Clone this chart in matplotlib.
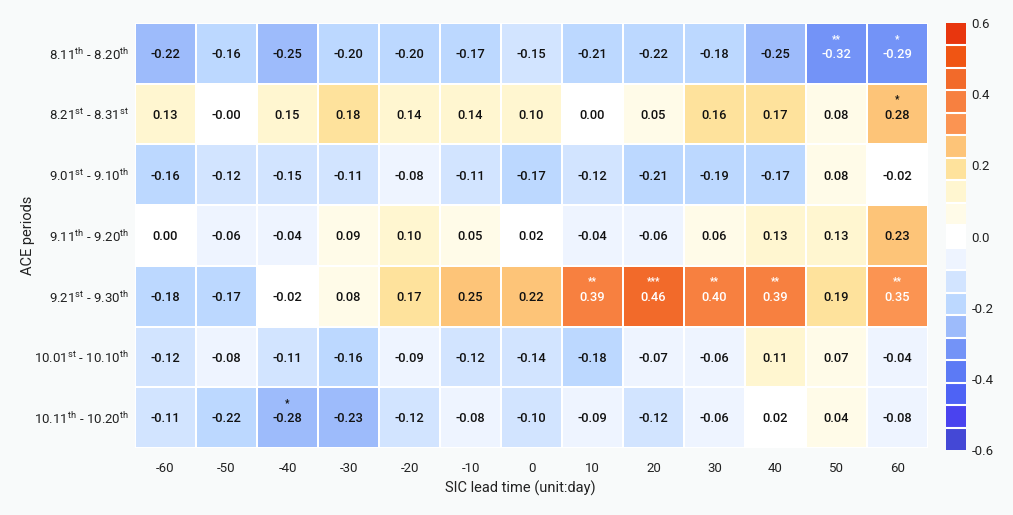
import numpy as np
import matplotlib
matplotlib.use("Agg")
import matplotlib.pyplot as plt
from matplotlib.colors import ListedColormap, BoundaryNorm

plt.rcParams['font.family'] = ['Roboto', 'DejaVu Sans']
plt.rcParams['mathtext.fontset'] = 'custom'
plt.rcParams['mathtext.rm'] = 'Roboto'
plt.rcParams['mathtext.it'] = 'Roboto'

lead_days = [-60, -50, -40, -30, -20, -10, 0, 10, 20, 30, 40, 50, 60]
periods = [
    r"8.11$^{\rm th}$ - 8.20$^{\rm th}$",
    r"8.21$^{\rm st}$ - 8.31$^{\rm st}$",
    r"9.01$^{\rm st}$ - 9.10$^{\rm th}$",
    r"9.11$^{\rm th}$ - 9.20$^{\rm th}$",
    r"9.21$^{\rm st}$ - 9.30$^{\rm th}$",
    r"10.01$^{\rm st}$ - 10.10$^{\rm th}$",
    r"10.11$^{\rm th}$ - 10.20$^{\rm th}$",
]

row_811 = [-0.224, -0.16, -0.25, -0.20, -0.20, -0.17, -0.15, -0.21, -0.218, -0.18, -0.25, -0.32, -0.29]
row_821 = [0.13, -0.001, 0.15, 0.18, 0.14, 0.14, 0.10, 0.00, 0.05, 0.16, 0.17, 0.08, 0.28]
row_901 = [-0.16, -0.12, -0.15, -0.11, -0.08, -0.11, -0.17, -0.12, -0.21, -0.19, -0.17, 0.08, -0.02]
row_911 = [0.00, -0.06, -0.04, 0.09, 0.10, 0.05, 0.02, -0.04, -0.06, 0.06, 0.13, 0.13, 0.23]
row_921 = [-0.18, -0.17, -0.02, 0.08, 0.17, 0.25, 0.222, 0.39, 0.46, 0.40, 0.39, 0.19, 0.346]
row_1001 = [-0.12, -0.08, -0.11, -0.16, -0.09, -0.12, -0.14, -0.18, -0.07, -0.06, 0.11, 0.07, -0.04]
row_1011 = [-0.11, -0.218, -0.28, -0.23, -0.12, -0.08, -0.10, -0.09, -0.12, -0.06, 0.02, 0.04, -0.08]

# significance marks: (row, column) -> stars
significance = {(0, 11): '**', (0, 12): '*', (1, 12): '*',
                (4, 7): '**', (4, 8): '***', (4, 9): '**', (4, 10): '**', (4, 12): '**',
                (6, 2): '*'}

palette = ['#4448d6', '#4a43ef', '#4e63f5', '#5c7af5', '#7393f7', '#9dbbfb', '#bcd8ff',
           '#d2e4ff', '#eef4ff', '#ffffff', '#fffbe8', '#fff6d0', '#fee29c', '#fdc478',
           '#fb9452', '#f78040', '#f26a2a', '#f05513', '#e8360e']

data = np.array([row_811, row_821, row_901, row_911, row_921, row_1001, row_1011])
nr, nc = data.shape

bounds = np.linspace(-0.6, 0.6, len(palette) + 1)
cmap = ListedColormap(palette)
norm = BoundaryNorm(bounds, cmap.N)

bg = '#f8fafa'
fig = plt.figure(figsize=(10.13, 5.15), dpi=100, facecolor=bg)
ax = fig.add_axes([135/1013, 67/515, 793/1013, 425/515])
ax.set_facecolor(bg)

ax.pcolormesh(np.arange(nc + 1), np.arange(nr + 1), data, cmap=cmap, norm=norm,
              edgecolors='white', linewidth=1.2)
ax.set_xlim(0, nc)
ax.set_ylim(nr, 0)

for i in range(nr):
    for j in range(nc):
        v = data[i, j]
        col = 'white' if abs(v) >= 0.285 else '#111111'
        ax.text(j + 0.5, i + 0.52, f"{v:.2f}", ha='center', va='center',
                fontsize=9.3, color=col, fontweight='medium')
        s = significance.get((i, j))
        if s:
            ax.text(j + 0.5, i + 0.26, s, ha='center', va='center',
                    fontsize=7, color=col, fontweight='bold')

ax.set_xticks(np.arange(nc) + 0.5)
ax.set_xticklabels([str(d) for d in lead_days])
ax.set_yticks(np.arange(nr) + 0.5)
ax.set_yticklabels(periods)
ax.tick_params(axis='x', length=0, pad=10, labelsize=9.5, labelcolor='#222222')
ax.tick_params(axis='y', length=0, pad=4.5, labelsize=9.5, labelcolor='#222222')
for sp in ax.spines.values():
    sp.set_visible(False)

ax.set_xlabel("SIC lead time (unit:day)", fontsize=10.5, color='#222222')
ax.xaxis.set_label_coords((520 - 135) / 793, -(481 - 448) / 425)
ax.set_ylabel("ACE periods", fontsize=10.5, color='#222222')
ax.yaxis.set_label_coords(-(135 - 35) / 793, 0.5)

cax = fig.add_axes([946/1013, 65/515, 20/1013, 427/515])
sm = matplotlib.cm.ScalarMappable(norm=norm, cmap=cmap)
cb = fig.colorbar(sm, cax=cax, drawedges=True, ticks=[-0.6, -0.4, -0.2, 0.0, 0.2, 0.4, 0.6])
cb.outline.set_visible(False)
cb.dividers.set_color('white')
cb.dividers.set_linewidth(1.5)
cb.ax.minorticks_off()
cb.ax.set_yticklabels(['-0.6', '-0.4', '-0.2', '0.0', '0.2', '0.4', '0.6'])
cb.ax.tick_params(which='both', length=0, pad=4, labelsize=9.5, labelcolor='#222222')

fig.savefig("out.png", dpi=100, facecolor=bg)
